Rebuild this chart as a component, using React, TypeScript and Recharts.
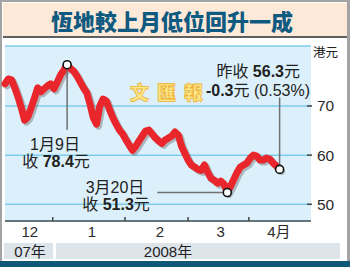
import React from "react";
import { LineChart, Line, XAxis, YAxis, CartesianGrid } from "recharts";

// Henderson Land daily closes, trading day 0 = mid Dec 2007
const closes = [
  74.5, 75.5, 75.3, 73.7, 71.8, 69.6, 67.1, 67.8, 69.6, 71.6,
  73.7, 72.9, 73.5, 74.1, 74.5, 73.5, 74.9, 76.3, 77.3, 78.4,
  77.6, 77.1, 76.1, 74.9, 73.7, 72.7, 70.4, 67.6, 66.3, 70.0,
  71.4, 71.0, 69.2, 67.6, 66.3, 65.1, 64.3, 63.1, 62.0, 61.0,
  61.8, 62.9, 63.9, 64.9, 65.1, 64.3, 63.5, 62.9, 62.4, 63.1,
  63.5, 63.9, 64.7, 64.1, 61.8, 60.4, 59.0, 58.0, 57.6, 57.1,
  56.9, 58.0, 56.5, 55.3, 54.9, 54.3, 54.7, 54.1, 52.4, 53.7,
  55.1, 56.5, 57.6, 58.0, 58.4, 59.4, 60.0, 59.8, 59.0, 59.0,
  59.4, 59.2, 58.4, 57.8, 57.1,
];

const monthEdges = [14.6, 36.7, 56, 74.6];
const monthLabelPos = [7.6, 26.6, 47.4, 66, 83.8];
const monthLabels = ["12", "1", "2", "3", "4月"];
const priceTicks = [50, 60, 70];
const markedDays = [19, 68, 84]; // 1月9日 high, 3月20日 low, last close

const chartData = closes.map((close, day) => ({ day, close }));
const xTicks = [...monthEdges, ...monthLabelPos].sort((a, b) => a - b);

const latin = "'Liberation Sans', Arial, 'Noto Sans CJK TC', sans-serif";
const cjk = "'Noto Sans CJK TC', 'Liberation Sans', sans-serif";

const XTick = ({ x, y, payload }: any) => {
  if (monthEdges.includes(payload.value)) {
    return <line x1={x} x2={x} y1={y - 4} y2={y} stroke="#444" strokeWidth={1.5} />;
  }
  const i = monthLabelPos.indexOf(payload.value);
  return (
    <text x={x} y={y + 16} textAnchor="middle" fontSize={15} fill="#2a2a2a" fontFamily={latin}>
      {monthLabels[i]}
    </text>
  );
};

const YTick = ({ x, y, payload }: any) => (
  <g>
    <line x1={x - 4} x2={x + 1} y1={y} y2={y} stroke="#444" strokeWidth={1.5} />
    <text x={x + 6} y={y + 5.5} textAnchor="start" fontSize={15.5} fill="#2a2a2a" fontFamily={latin}>
      {payload.value}
    </text>
  </g>
);

const MarkDot = ({ cx, cy, index }: any) => {
  const k = markedDays.indexOf(index);
  if (k < 0) return <g key={`d-${index}`} />;
  let leader = null;
  if (k === 0) leader = <line x1={cx} x2={cx} y1={cy} y2={cy + 65} />;
  if (k === 1) leader = <line x1={cx} x2={cx - 70} y1={cy} y2={cy} />;
  if (k === 2) leader = <line x1={cx} x2={cx} y1={cy} y2={cy - 72} />;
  return (
    <g key={`d-${index}`}>
      <g stroke="#707070" strokeWidth={1.5}>{leader}</g>
      <circle cx={cx} cy={cy} r={4} fill="#fff" stroke="#111" strokeWidth={1.6} />
    </g>
  );
};

const Note = ({ x, y, size = 16, children, align = "center" }: any) => (
  <div
    style={{
      position: "absolute",
      left: align === "right" ? undefined : x,
      right: align === "right" ? 350 - x : undefined,
      top: y - size / 2,
      transform: align === "center" ? "translateX(-50%)" : undefined,
      fontSize: size,
      lineHeight: `${size}px`,
      whiteSpace: "nowrap",
      color: "#222",
      fontFamily: latin,
    }}
  >
    {children}
  </div>
);

export default function App() {
  return (
    <div
      style={{
        position: "absolute",
        left: 0,
        top: 0,
        width: 350,
        height: 267,
        background: "#fff",
        overflow: "hidden",
      }}
    >
      <style>{`.redline .recharts-line-curve { filter: drop-shadow(2px 2px 0.5px rgba(110,110,110,0.45)); }`}</style>

      {/* frame */}
      <div
        style={{
          position: "absolute",
          inset: 0,
          borderLeft: "2px solid #a3a3a3",
          borderTop: "2px solid #a3a3a3",
          borderRight: "3px solid #a3a3a3",
        }}
      />

      {/* title */}
      <div
        style={{
          position: "absolute",
          left: 3,
          top: 3,
          width: 344,
          height: 33,
          background: "#fde9d8",
          borderBottom: "2px solid #5f5f5f",
        }}
      />
      <div
        style={{
          position: "absolute",
          left: 51,
          top: 5,
          fontFamily: cjk,
          fontWeight: 900,
          fontSize: 22,
          lineHeight: "30px",
          color: "#0f5a80",
        }}
      >
        恆地較上月低位回升一成
      </div>

      {/* year band */}
      <div style={{ position: "absolute", left: 4, top: 243, width: 49, height: 16, background: "#dde4ea" }} />
      <div style={{ position: "absolute", left: 56, top: 243, width: 284, height: 16, background: "#dde4ea" }} />
      <div style={{ position: "absolute", left: 0, top: 261, width: 350, height: 6, background: "#0f5878" }} />

      <div style={{ position: "absolute", left: 0, top: 0 }}>
        <LineChart width={350} height={267} data={chartData} margin={{ top: 46, right: 3, left: 5, bottom: 26 }}>
          <CartesianGrid vertical={false} fill="#dcf0fb" fillOpacity={1} stroke="#7ccdec" strokeWidth={1.5} />
          <XAxis
            dataKey="day"
            type="number"
            domain={[0, 93.6]}
            ticks={xTicks}
            interval={0}
            tickSize={0}
            tickMargin={0}
            tickLine={false}
            axisLine={{ stroke: "#555", strokeWidth: 1.5 }}
            tick={<XTick />}
            height={20}
          />
          <YAxis
            orientation="right"
            domain={[46.6, 82.2]}
            ticks={priceTicks}
            interval={0}
            tickSize={0}
            tickMargin={0}
            tickLine={false}
            axisLine={false}
            tick={<YTick />}
            width={36}
          />
          <Line
            className="redline"
            type="linear"
            dataKey="close"
            stroke="#e8262c"
            strokeWidth={7}
            strokeLinejoin="round"
            strokeLinecap="round"
            dot={<MarkDot />}
            activeDot={false}
            isAnimationActive={false}
          />
        </LineChart>
      </div>

      {/* watermark */}
      {["文", "匯", "報"].map((c, i) => (
        <div
          key={c}
          style={{
            position: "absolute",
            left: 130 + i * 27,
            top: 81,
            fontFamily: cjk,
            fontWeight: 900,
            fontSize: 19,
            lineHeight: "21px",
            color: "#fcea88",
            WebkitTextStroke: "0.8px #efb338",
          }}
        >
          {c}
        </div>
      ))}

      <div style={{ position: "absolute", left: 313, top: 45, fontFamily: cjk, fontSize: 12.5, lineHeight: "14px", color: "#222" }}>
        港元
      </div>

      <Note x={55} y={145}>1月9日</Note>
      <Note x={56} y={162}>
        收 <b>78.4</b>元
      </Note>
      <Note x={115} y={187.5}>3月20日</Note>
      <Note x={116} y={205}>
        收 <b>51.3</b>元
      </Note>
      <Note x={300} y={71.5} align="right">
        昨收 <b>56.3</b>元
      </Note>
      <Note x={310} y={91} align="right">
        <b>-0.3</b>元 (0.53%)
      </Note>

      <Note x={30} y={251} size={15}>07年</Note>
      <Note x={168} y={251} size={15}>2008年</Note>
    </div>
  );
}
